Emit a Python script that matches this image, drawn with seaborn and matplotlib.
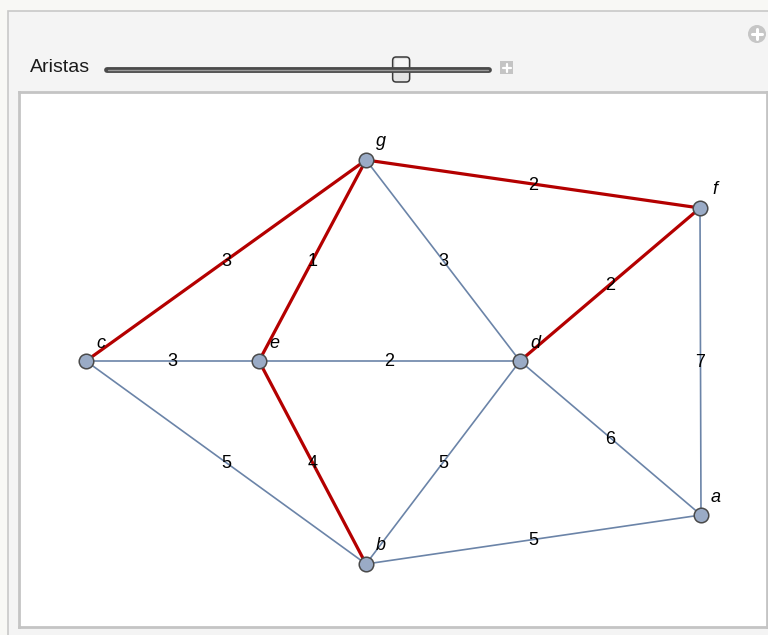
import pandas as pd
import seaborn as sns
import matplotlib.pyplot as plt
from matplotlib.patches import FancyBboxPatch, Rectangle, Circle

# Graph data (positions, pixel units)
nodes = ['a', 'b', 'c', 'd', 'e', 'f', 'g']
node_x = [701, 366, 86, 520, 259, 700, 366]
node_y = [515, 564, 361, 361, 361, 208, 160]

edge_u = ['c', 'g', 'g', 'g', 'f', 'f', 'c', 'e', 'c', 'e', 'd', 'd', 'b']
edge_v = ['g', 'e', 'f', 'd', 'd', 'a', 'e', 'd', 'b', 'b', 'b', 'a', 'a']
weights = [3, 1, 2, 3, 2, 7, 3, 2, 5, 4, 5, 6, 5]
in_tree = [True, True, True, False, True, False, False, False, False, True, False, False, False]

slider_label = 'Aristas'
slider_pos = 0.77

W, H = 768, 635
RED = '#b40000'
BLUE = '#6b84a8'

sns.set_theme(style='white')
plt.rcParams['font.family'] = ['Liberation Sans', 'DejaVu Sans']

fig = plt.figure(figsize=(W / 100, H / 100), dpi=100)
fig.patch.set_facecolor('#f8f8f5')

# panel chrome in pixel coordinates
bg = fig.add_axes([0, 0, 1, 1])
bg.set_xlim(0, W)
bg.set_ylim(H, 0)
bg.axis('off')
bg.add_patch(Rectangle((7.5, 10.5), W, H, facecolor='#f4f4f4', edgecolor='#c8c8c8', lw=1.2))

# slider
x0, x1, ys = 107, 489, 70
bg.plot([x0, x1], [ys, ys], color='#4a4a4a', lw=4.2, solid_capstyle='round')
bg.plot([x0 + 1, x1 - 1], [ys - 0.4, ys - 0.4], color='#9a9a9a', lw=1.0, solid_capstyle='round')
tx = x0 + slider_pos * (x1 - x0)
bg.add_patch(FancyBboxPatch((tx - 8.5, 57), 17, 25, boxstyle='round,pad=0,rounding_size=3.5',
                            facecolor='#e4e4e4', edgecolor='#3a3a3a', lw=1.1))
bg.add_patch(Rectangle((tx - 6.5, 59), 13, 9, facecolor='#f6f6f6', edgecolor='none'))
bg.text(30, 67, slider_label, fontsize=14, color='#1a1a1a', va='center', ha='left')
bg.add_patch(Rectangle((500, 61), 13, 13, facecolor='#c4c4c4', edgecolor='none'))
bg.plot([506.5, 506.5], [63.5, 71.5], color='white', lw=1.6)
bg.plot([502.5, 510.5], [67.5, 67.5], color='white', lw=1.6)
bg.add_patch(Circle((757, 34), 9, facecolor='#c6c6c6', edgecolor='none'))
bg.plot([757, 757], [29, 39], color='white', lw=2.2)
bg.plot([752, 762], [34, 34], color='white', lw=2.2)

# graph area
left, right, top, bottom = 19, 767, 92, 627
ax = fig.add_axes([left / W, 1 - bottom / H, (right - left) / W, (bottom - top) / H])
ax.set_facecolor('white')
ax.set_xlim(left, right)
ax.set_ylim(bottom, top)
ax.set_xticks([])
ax.set_yticks([])
for s in ax.spines.values():
    s.set_color('#c4c4c4')
    s.set_linewidth(2)

pos = pd.DataFrame({'node': nodes, 'x': node_x, 'y': node_y}).set_index('node')

for u, v, w, t in zip(edge_u, edge_v, weights, in_tree):
    xs = [pos.loc[u, 'x'], pos.loc[v, 'x']]
    ys_ = [pos.loc[u, 'y'], pos.loc[v, 'y']]
    ax.plot(xs, ys_, color=RED if t else BLUE, lw=2.3 if t else 1.2, zorder=1,
            solid_capstyle='butt')
    ax.text(sum(xs) / 2, sum(ys_) / 2 + 1, str(w), fontsize=13, ha='center', va='center',
            color='black', zorder=2)

sns.scatterplot(data=pos.reset_index(), x='x', y='y', s=110, color='#9aabc6',
                edgecolor='#4a4a4a', linewidth=1.1, zorder=3, ax=ax, legend=False)
ax.set_xlabel('')
ax.set_ylabel('')

for n, x, y in zip(nodes, node_x, node_y):
    ax.text(x + 15, y - 18, n, fontsize=13, style='italic', ha='center', va='center',
            color='black', zorder=4)

fig.savefig('out.png', dpi=100, facecolor=fig.get_facecolor())
